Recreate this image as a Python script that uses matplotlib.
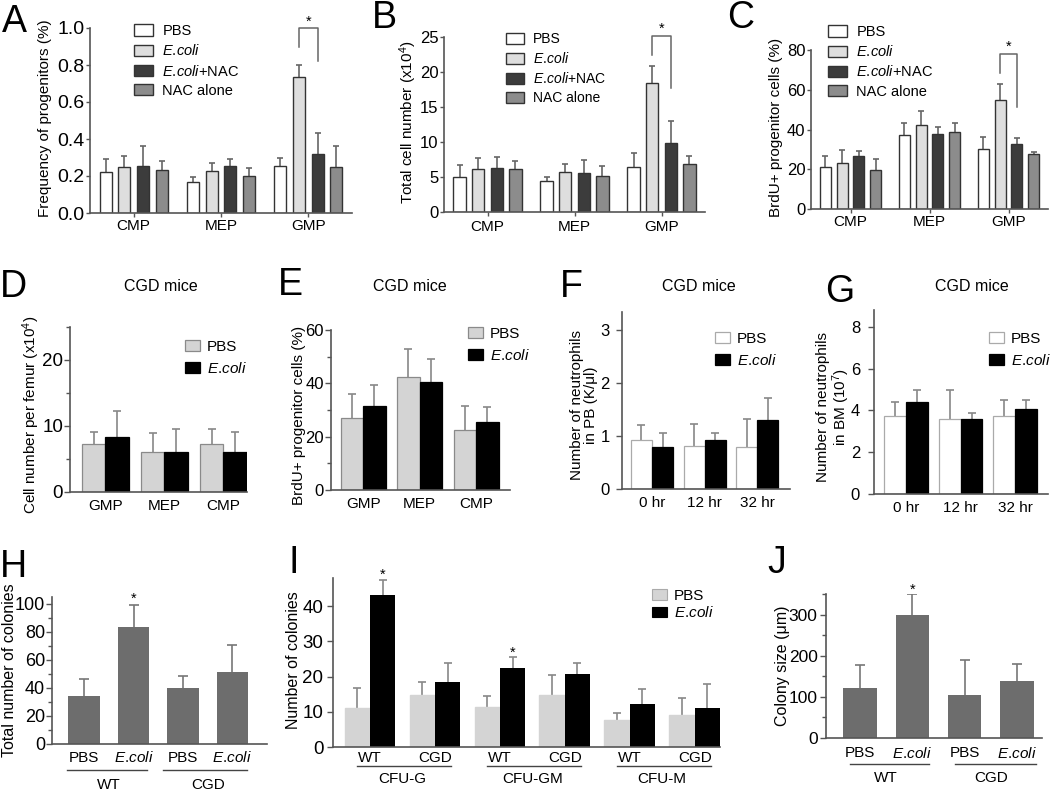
import matplotlib.pyplot as plt
import numpy as np
from matplotlib.patches import Patch
from matplotlib.transforms import Affine2D, blended_transform_factory
from matplotlib.ticker import MultipleLocator

plt.rcParams['font.family'] = ['Liberation Sans', 'DejaVu Sans']
plt.rcParams['mathtext.fontset'] = 'custom'
plt.rcParams['mathtext.rm'] = 'Liberation Sans'
plt.rcParams['mathtext.it'] = 'Liberation Sans:italic'

W, H = 1050, 790
# mathtext puts a space after '.', \! takes most of it back
ECOLI = '$\\mathit{E.\\!coli}$'

# ---- data ----
groups_abc = ['CMP', 'MEP', 'GMP']
treat4 = ['PBS', ECOLI, ECOLI + '+NAC', 'NAC alone']
freq_mean = [[0.22, 0.25, 0.255, 0.23], [0.17, 0.225, 0.255, 0.20], [0.255, 0.735, 0.32, 0.25]]
freq_err = [[0.07, 0.06, 0.105, 0.05], [0.025, 0.045, 0.035, 0.045], [0.045, 0.065, 0.11, 0.11]]
total_mean = [[5.0, 6.2, 6.3, 6.1], [4.4, 5.7, 5.6, 5.1], [6.5, 18.4, 9.9, 6.9]]
total_err = [[1.7, 1.5, 1.6, 1.2], [0.6, 1.1, 1.8, 1.5], [1.9, 2.5, 3.1, 1.1]]
brdu_mean = [[21.2, 23.2, 26.5, 19.5], [37.3, 42.5, 37.8, 38.5], [30.0, 54.8, 32.8, 27.8]]
brdu_err = [[5.4, 6.5, 2.5, 5.5], [6.0, 7.0, 3.5, 5.0], [6.0, 8.0, 3.0, 1.0]]

groups_de = ['GMP', 'MEP', 'CMP']
cgd_cell_pbs = [7.2, 6.0, 7.2]
cgd_cell_pbs_err = [1.9, 2.9, 2.4]
cgd_cell_eco = [8.3, 6.1, 6.0]
cgd_cell_eco_err = [3.9, 3.5, 3.1]
cgd_brdu_pbs = [27.0, 42.5, 22.5]
cgd_brdu_pbs_err = [9.0, 10.5, 9.0]
cgd_brdu_eco = [31.5, 40.5, 25.5]
cgd_brdu_eco_err = [8.0, 8.5, 5.5]

times = ['0 hr', '12 hr', '32 hr']
pb_pbs = [0.93, 0.82, 0.80]
pb_pbs_err = [0.27, 0.40, 0.52]
pb_eco = [0.80, 0.92, 1.31]
pb_eco_err = [0.25, 0.13, 0.41]
bm_pbs = [3.75, 3.60, 3.75]
bm_pbs_err = [0.63, 1.38, 0.75]
bm_eco = [4.38, 3.58, 4.05]
bm_eco_err = [0.60, 0.30, 0.43]

hj_labels = ['PBS', ECOLI, 'PBS', ECOLI]
hj_groups = ['WT', 'CGD']
colonies = [34, 83.5, 40, 51.5]
colonies_err = [12.5, 16, 8.5, 19.5]
colony_size = [122, 300, 105, 139]
colony_size_err = [56, 49, 85, 41]

cfu_types = ['CFU-G', 'CFU-GM', 'CFU-M']
cfu_strains = ['WT', 'CGD', 'WT', 'CGD', 'WT', 'CGD']
cfu_pbs = [11.2, 14.8, 11.3, 14.8, 7.8, 9.1]
cfu_pbs_err = [5.6, 3.8, 3.3, 5.7, 1.9, 4.9]
cfu_eco = [43.2, 18.5, 22.3, 20.8, 12.3, 11.0]
cfu_eco_err = [4.3, 5.3, 3.3, 3.0, 4.2, 6.8]

# ---- helpers ----
fig = plt.figure(figsize=(W / 100, H / 100), dpi=100)
topdown = Affine2D().scale(1, -1).translate(0, H)
AXC = '#555555'


def add_ax(l, t, r, b):
    ax = fig.add_axes([l / W, 1 - b / H, (r - l) / W, (b - t) / H])
    for s in ['top', 'right']:
        ax.spines[s].set_visible(False)
    for s in ['left', 'bottom']:
        ax.spines[s].set_color(AXC)
        ax.spines[s].set_linewidth(1.2)
    ax.set_facecolor('none')
    return ax


def ftext(x, y, s, **kw):
    fig.text(x / W, 1 - y / H, s, **kw)


def ebar(ax, x, y, e, color='#777777', cap=5):
    top = np.add(y, e)
    ax.vlines(x, y, top, colors=color, lw=1.2, zorder=1)
    ax.plot(x, top, ls='none', marker='_', ms=cap, mew=1.2, color=color, zorder=1)


def legend(ax, handles, labels, x, y, fs=10, hl=1.3, hh=0.8, tp=0.6, ls=0.4):
    ax.legend(handles, labels, loc='upper left', bbox_to_anchor=(x / W, 1 - y / H),
              bbox_transform=fig.transFigure, frameon=False, borderpad=0, borderaxespad=0,
              fontsize=fs, handlelength=hl, handleheight=hh, handletextpad=tp, labelspacing=ls)


def below(ax):
    return blended_transform_factory(ax.transData, topdown)


# ---- A, B, C ----
c4 = ['white', '#dedede', '#3c3c3c', '#8c8c8c']
off4 = (np.arange(4) - 1.5) * 0.214


def four_panel(box, means, errs, ytop, ystep, ytfmt, ylab, labx, tfs, xpad, br, legxy, legfs):
    ax = add_ax(*box)
    means = np.array(means)
    errs = np.array(errs)
    for i in range(4):
        x = np.arange(3) + off4[i]
        ax.bar(x, means[:, i], width=0.14, color=c4[i], edgecolor='#333333', lw=1, zorder=2)
        ebar(ax, x, means[:, i], errs[:, i], color='#666666', cap=5)
    ax.set_xlim(-0.5, 2.5)
    ax.set_ylim(0, ytop)
    ticks = np.arange(0, ytop + ystep / 2, ystep)
    ax.set_yticks(ticks, [ytfmt.format(t) for t in ticks])
    ax.set_xticks(range(3), groups_abc)
    ax.tick_params(axis='y', length=3, width=1, color=AXC, pad=1, labelsize=tfs)
    ax.tick_params(axis='x', length=3, width=1, color=AXC, pad=xpad, labelsize=11)
    ftext(labx, (box[1] + box[3]) / 2 - 2, ylab, rotation=90, ha='center', va='center', fontsize=11)
    x1, x2 = 2 + off4[1], 2 + off4[2]
    yl, yt, yr, ys = br
    ax.plot([x1, x1, x2, x2], [yl, yt, yt, yr], color='#666666', lw=1.1, clip_on=False)
    ax.text((x1 + x2) / 2, ys, '*', ha='center', va='center', fontsize=10.5)
    handles = [Patch(facecolor=c, edgecolor='#333333', lw=1) for c in c4]
    legend(ax, handles, treat4, legxy[0], legxy[1], fs=legfs, hl=1.3, hh=0.82, tp=0.65, ls=0.36)
    return ax


four_panel((90, 28, 352, 213), freq_mean, freq_err, 1.0, 0.2, '{:.1f}',
           'Frequency of progenitors (%)', 45, 14, 1.5,
           (0.90, 1.0, 0.82, 1.035), (134, 24), 10.5)
four_panel((444, 37, 705, 212), total_mean, total_err, 25, 5, '{:.0f}',
           'Total cell number (x10$^4$)', 408, 12, 3,
           (22.4, 25.1, 17.7, 26.2), (506, 32), 10)
four_panel((811, 50, 1048, 209), brdu_mean, brdu_err, 80, 20, '{:.0f}',
           'BrdU+ progenitor cells (%)', 776, 12, 1.5,
           (68.6, 78, 51.4, 81.5), (828, 25), 10.5)


# ---- D, E, F, G ----
def pair_panel(box, pbs, pbs_err, eco, eco_err, labels, xlim, ytop, major, minor,
               ylab, labx, tfs, ypad, pbs_col, pbs_edge, legxy):
    ax = add_ax(*box)
    x = np.arange(3)
    ax.bar(x - 0.2, pbs, width=0.4, color=pbs_col, edgecolor=pbs_edge, lw=0.9, zorder=2)
    ax.bar(x + 0.2, eco, width=0.4, color='black', edgecolor='black', lw=0.9, zorder=2)
    ebar(ax, x - 0.2, pbs, pbs_err, color='#888888', cap=6)
    ebar(ax, x + 0.2, eco, eco_err, color='#888888', cap=6)
    ax.set_xlim(*xlim)
    ax.set_ylim(0, ytop)
    ax.yaxis.set_major_locator(MultipleLocator(major))
    if minor:
        ax.yaxis.set_minor_locator(MultipleLocator(minor))
    ax.set_xticks(x, labels)
    ax.tick_params(axis='y', which='major', length=4, width=1, color=AXC, pad=ypad, labelsize=tfs)
    ax.tick_params(axis='y', which='minor', length=3, width=1, color=AXC)
    ax.tick_params(axis='x', length=0, pad=5, labelsize=11)
    ftext(labx, (box[1] + box[3]) / 2 + 5, ylab, rotation=90, ha='center', va='center',
          fontsize=11, linespacing=1.0)
    handles = [Patch(facecolor=pbs_col, edgecolor=pbs_edge, lw=0.9),
               Patch(facecolor='black', edgecolor='black', lw=0.9)]
    legend(ax, handles, ['PBS', ECOLI], legxy[0], legxy[1], fs=11, hl=1.0, hh=0.68, tp=0.45, ls=0.45)
    return ax


pair_panel((70, 327, 247, 492), cgd_cell_pbs, cgd_cell_pbs_err, cgd_cell_eco, cgd_cell_eco_err,
           groups_de, (-0.6, 2.4), 25, 10, 5, 'Cell number per femur (x10$^4$)', 31, 13.5, 1,
           '#d4d4d4', '#8a8a8a', (185, 340))
pair_panel((331, 330, 510, 490), cgd_brdu_pbs, cgd_brdu_pbs_err, cgd_brdu_eco, cgd_brdu_eco_err,
           groups_de, (-0.57, 2.6), 60, 20, 10, 'BrdU+ progenitor cells (%)', 299, 12, 1,
           '#d4d4d4', '#8a8a8a', (468, 327))
pair_panel((622, 312, 790, 489), pb_pbs, pb_pbs_err, pb_eco, pb_eco_err,
           times, (-0.57, 2.62), 3.34, 1, None, 'Number of neutrophils\nin PB (K/\u03bcl)', 584, 12, 5,
           'white', '#aaaaaa', (715, 332))
pair_panel((874, 310, 1048, 494), bm_pbs, bm_pbs_err, bm_eco, bm_eco_err,
           times, (-0.585, 2.6), 8.8, 2, None, 'Number of neutrophils\nin BM (10$^7$)', 834, 12, 6,
           'white', '#aaaaaa', (989, 332))

for cx in [161, 410, 699, 972]:
    ftext(cx, 287, 'CGD mice', ha='center', va='center', fontsize=11.5)


# ---- H, J ----
def single_panel(box, vals, errs, xlim, ytop, major, minor, ylab, labx, tfs, ypad,
                 lab_y, line_y, grp_y, spans, star_pad):
    ax = add_ax(*box)
    x = np.arange(4)
    ax.bar(x, vals, width=0.64, color='#6d6d6d', zorder=2)
    ebar(ax, x, vals, errs, color='#777777', cap=7)
    ax.set_xlim(*xlim)
    ax.set_ylim(0, ytop)
    ax.yaxis.set_major_locator(MultipleLocator(major))
    ax.yaxis.set_minor_locator(MultipleLocator(minor))
    ax.set_xticks([])
    ax.tick_params(axis='y', which='major', length=4, width=1, color=AXC, pad=ypad, labelsize=tfs)
    ax.tick_params(axis='y', which='minor', length=3, width=1, color=AXC)
    tr = below(ax)
    for xi, lab in zip(x, hj_labels):
        ax.text(xi, lab_y, lab, transform=tr, ha='center', va='center', fontsize=11)
    for (a, b), g, gx in zip(spans, hj_groups, [0.5, 2.5]):
        ax.plot([a, b], [line_y, line_y], transform=tr, color='#444444', lw=1, clip_on=False)
        ax.text(gx, grp_y, g, transform=tr, ha='center', va='center', fontsize=11)
    ax.text(1, vals[1] + errs[1] + star_pad, '*', ha='center', va='center', fontsize=10.5)
    ftext(labx, (box[1] + box[3]) / 2, ylab, rotation=90, ha='center', va='center', fontsize=11.5)
    return ax


single_panel((52, 597, 267, 744), colonies, colonies_err, (-0.65, 3.7), 105, 20, 10,
             'Total number of colonies', 10, 13, 1, 758, 770, 785,
             [(-0.34, 1.28), (1.6, 3.3)], 4)
single_panel((826, 594, 1042, 738), colony_size, colony_size_err, (-0.65, 3.48), 350, 100, 50,
             'Colony size (\u03bcm)', 782, 12.5, 2, 753, 764, 778,
             [(-0.19, 1.32), (1.82, 3.37)], 12)

# ---- I ----
ax = add_ax(333, 578, 720, 747)
x = np.arange(6)
ax.bar(x - 0.195, cfu_pbs, width=0.39, color='#d4d4d4', edgecolor='#d4d4d4', zorder=2)
ax.bar(x + 0.195, cfu_eco, width=0.39, color='black', zorder=2)
ebar(ax, x - 0.195, cfu_pbs, cfu_pbs_err, color='#888888', cap=6)
ebar(ax, x + 0.195, cfu_eco, cfu_eco_err, color='#888888', cap=6)
ax.set_xlim(-0.57, 5.39)
ax.set_ylim(0, 48)
ax.yaxis.set_major_locator(MultipleLocator(10))
ax.set_xticks([])
ax.tick_params(axis='y', length=4, width=1, color=AXC, pad=3, labelsize=13.5)
tr = below(ax)
for xi, lab in zip(x, cfu_strains):
    ax.text(xi, 758, lab, transform=tr, ha='center', va='center', fontsize=11)
for k, name in enumerate(cfu_types):
    a = 2 * k
    ax.plot([a - 0.2, a + 1.25], [766, 766], transform=tr, color='#444444', lw=1, clip_on=False)
    ax.text(a + 0.5, 779, name, transform=tr, ha='center', va='center', fontsize=11)
for i in [0, 2]:
    ax.text(i + 0.195, cfu_eco[i] + cfu_eco_err[i] + 1.3, '*', ha='center', va='center', fontsize=10.5)
ftext(293, 660, 'Number of colonies', rotation=90, ha='center', va='center', fontsize=11.5)
legend(ax, [Patch(facecolor='#d4d4d4', edgecolor='#aaaaaa', lw=0.8),
            Patch(facecolor='black', edgecolor='black', lw=0.8)],
       ['PBS', ECOLI], 652, 589, fs=11, hl=1.0, hh=0.68, tp=0.45, ls=0.15)

# ---- panel letters ----
letters = [('A', 2, 32), ('B', 372, 28), ('C', 727, 28), ('D', 0, 297), ('E', 278, 295),
           ('F', 560, 297), ('G', 825, 302), ('H', 0, 577), ('I', 288, 573), ('J', 767, 573)]
for s, lx, ly in letters:
    ftext(lx, ly, s, ha='left', va='baseline', fontsize=27)

fig.savefig('out.png', dpi=100)
